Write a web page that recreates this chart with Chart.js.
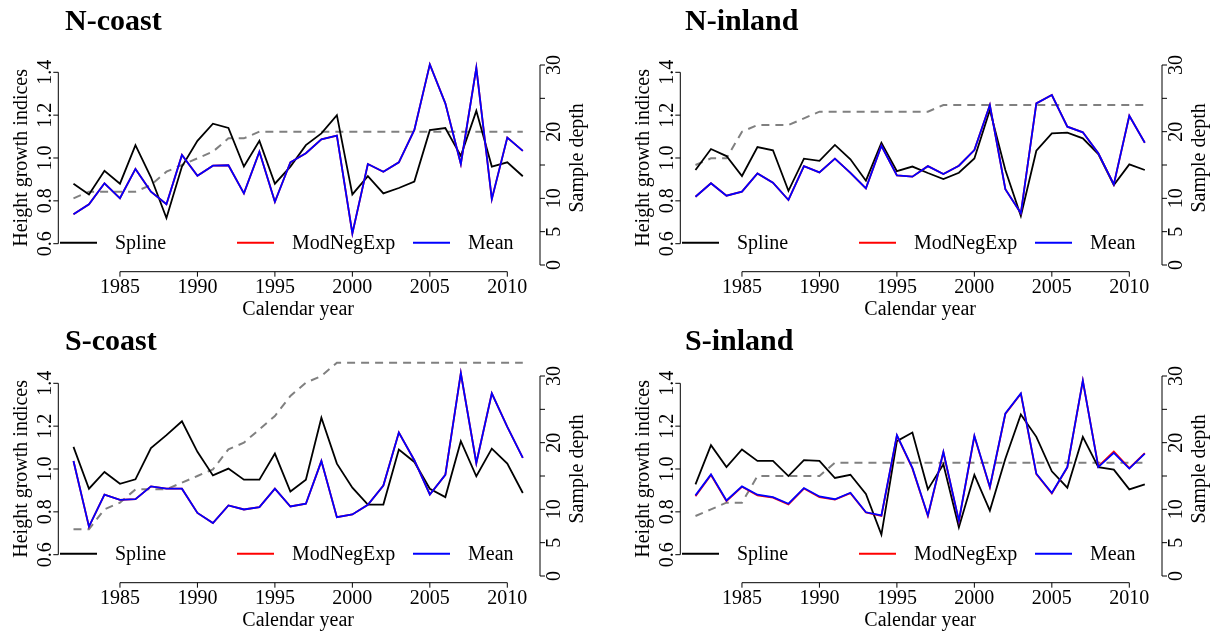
<!DOCTYPE html>
<html>
<head>
<meta charset="utf-8">
<title>Height growth indices</title>
<script src="https://cdn.jsdelivr.net/npm/chart.js@4.4.1/dist/chart.umd.min.js"></script>
<style>
  html, body { margin: 0; padding: 0; background: #fff; }
  #wrap { position: relative; width: 1218px; height: 635px; overflow: hidden; }
  #wrap canvas { position: absolute; }
</style>
</head>
<body>
<div id="wrap">
  <canvas id="c-ncoast" width="596" height="324" style="left:0;top:0"></canvas>
  <canvas id="c-ninland" width="596" height="324" style="left:622px;top:0"></canvas>
  <canvas id="c-scoast" width="596" height="324" style="left:0;top:311px"></canvas>
  <canvas id="c-sinland" width="596" height="324" style="left:622px;top:311px"></canvas>
</div>
<script>
const FONT = '"Liberation Serif", "Times New Roman", serif';

const years = [1982, 1983, 1984, 1985, 1986, 1987, 1988, 1989, 1990, 1991,
  1992, 1993, 1994, 1995, 1996, 1997, 1998, 1999, 2000, 2001,
  2002, 2003, 2004, 2005, 2006, 2007, 2008, 2009, 2010, 2011];
const xTicks = [1985, 1990, 1995, 2000, 2005, 2010];
const indexTicks = [0.6, 0.8, 1.0, 1.2, 1.4];
const depthTicks = [0, 5, 10, 15, 20, 25, 30];
const depthTickLabels = ["0", "5", "10", "", "20", "", "30"];
const legendLabels = ["Spline", "ModNegExp", "Mean"];

// N-coast
const ncoastSpline = [0.88, 0.83, 0.94, 0.88, 1.06, 0.91, 0.72, 0.96, 1.08, 1.16,
  1.14, 0.96, 1.08, 0.88, 0.96, 1.06, 1.115, 1.20, 0.83, 0.915,
  0.835, 0.86, 0.89, 1.13, 1.14, 1.01, 1.22, 0.96, 0.98, 0.915];
const ncoastNegExp = [0.737, 0.784, 0.882, 0.812, 0.949, 0.843, 0.784, 1.014, 0.917, 0.964,
  0.966, 0.835, 1.029, 0.796, 0.98, 1.022, 1.087, 1.104, 0.648, 0.972,
  0.936, 0.98, 1.131, 1.437, 1.255, 0.972, 1.421, 0.808, 1.095, 1.033];
const ncoastMean = [0.737, 0.784, 0.882, 0.812, 0.949, 0.843, 0.784, 1.014, 0.917, 0.964,
  0.966, 0.835, 1.029, 0.796, 0.98, 1.022, 1.087, 1.104, 0.648, 0.972,
  0.936, 0.98, 1.131, 1.437, 1.255, 0.972, 1.421, 0.808, 1.095, 1.033];
const ncoastDepth = [10, 11, 11, 11, 11, 12, 14, 15, 16, 17,
  19, 19, 20, 20, 20, 20, 20, 20, 20, 20,
  20, 20, 20, 20, 20, 20, 20, 20, 20, 20];

// N-inland
const ninlandSpline = [0.944, 1.042, 1.009, 0.916, 1.051, 1.036, 0.847, 0.997, 0.987, 1.061,
  0.994, 0.894, 1.071, 0.939, 0.96, 0.93, 0.902, 0.931, 0.998, 1.224,
  0.944, 0.729, 1.034, 1.115, 1.118, 1.092, 1.018, 0.874, 0.97, 0.944];
const ninlandNegExp = [0.819, 0.882, 0.824, 0.843, 0.928, 0.885, 0.804, 0.962, 0.933, 0.997,
  0.931, 0.858, 1.057, 0.919, 0.913, 0.962, 0.925, 0.964, 1.037, 1.247,
  0.854, 0.742, 1.255, 1.294, 1.146, 1.12, 1.022, 0.877, 1.197, 1.071];
const ninlandMean = [0.819, 0.882, 0.824, 0.843, 0.928, 0.885, 0.804, 0.962, 0.933, 0.997,
  0.931, 0.858, 1.057, 0.919, 0.913, 0.962, 0.925, 0.964, 1.037, 1.247,
  0.854, 0.742, 1.255, 1.294, 1.146, 1.12, 1.022, 0.877, 1.197, 1.071];
const ninlandDepth = [15, 16, 16, 20, 21, 21, 21, 22, 23, 23,
  23, 23, 23, 23, 23, 23, 24, 24, 24, 24,
  24, 24, 24, 24, 24, 24, 24, 24, 24, 24];

// S-coast
const scoastSpline = [1.103, 0.908, 0.986, 0.931, 0.952, 1.098, 1.158, 1.223, 1.08, 0.97,
  1.002, 0.95, 0.95, 1.072, 0.895, 0.95, 1.239, 1.025, 0.913, 0.834,
  0.834, 1.091, 1.033, 0.908, 0.869, 1.13, 0.966, 1.095, 1.025, 0.888];
const scoastNegExp = [1.037, 0.731, 0.88, 0.856, 0.859, 0.919, 0.908, 0.908, 0.795, 0.748,
  0.83, 0.811, 0.822, 0.908, 0.825, 0.838, 1.037, 0.775, 0.788, 0.833,
  0.923, 1.17, 1.041, 0.881, 0.973, 1.447, 1.028, 1.353, 1.197, 1.052];
const scoastMean = [1.037, 0.731, 0.88, 0.856, 0.859, 0.919, 0.908, 0.908, 0.795, 0.748,
  0.83, 0.811, 0.822, 0.908, 0.825, 0.838, 1.037, 0.775, 0.788, 0.833,
  0.923, 1.17, 1.041, 0.881, 0.973, 1.447, 1.028, 1.353, 1.197, 1.052];
const scoastDepth = [7, 7, 10, 11, 13, 13, 13, 14, 15, 16,
  19, 20, 22, 24, 27, 29, 30, 32, 32, 32,
  32, 32, 32, 32, 32, 32, 32, 32, 32, 32];

// S-inland
const sinlandSpline = [0.928, 1.111, 1.009, 1.091, 1.038, 1.038, 0.967, 1.041, 1.038, 0.958,
  0.973, 0.884, 0.694, 1.13, 1.17, 0.905, 1.022, 0.728, 0.973, 0.806,
  1.048, 1.255, 1.15, 0.989, 0.913, 1.15, 1.009, 0.997, 0.905, 0.928];
const sinlandNegExp = [0.873, 0.972, 0.85, 0.917, 0.877, 0.866, 0.835, 0.909, 0.869, 0.857,
  0.887, 0.797, 0.781, 1.156, 1.003, 0.781, 1.078, 0.757, 1.153, 0.914,
  1.257, 1.351, 0.976, 0.886, 1.007, 1.411, 1.012, 1.082, 1.004, 1.074];
const sinlandMean = [0.877, 0.975, 0.853, 0.919, 0.88, 0.869, 0.838, 0.911, 0.872, 0.859,
  0.889, 0.798, 0.783, 1.158, 1.005, 0.783, 1.08, 0.759, 1.155, 0.916,
  1.259, 1.353, 0.978, 0.888, 1.009, 1.413, 1.009, 1.075, 1.002, 1.072];
const sinlandDepth = [9, 10, 11, 11, 15, 15, 15, 15, 15, 17,
  17, 17, 17, 17, 17, 17, 17, 17, 17, 17,
  17, 17, 17, 17, 17, 17, 17, 17, 17, 17];

const panels = [
  { id: "c-ncoast", title: "N-coast", titleX: 65, titleY: 30,
    spline: ncoastSpline, negexp: ncoastNegExp, mean: ncoastMean, depth: ncoastDepth },
  { id: "c-ninland", title: "N-inland", titleX: 63, titleY: 30,
    spline: ninlandSpline, negexp: ninlandNegExp, mean: ninlandMean, depth: ninlandDepth },
  { id: "c-scoast", title: "S-coast", titleX: 65, titleY: 38.5,
    spline: scoastSpline, negexp: scoastNegExp, mean: scoastMean, depth: scoastDepth },
  { id: "c-sinland", title: "S-inland", titleX: 63, titleY: 38.5,
    spline: sinlandSpline, negexp: sinlandNegExp, mean: sinlandMean, depth: sinlandDepth },
];

function pts(arr) {
  return years.map((yr, i) => ({ x: yr, y: arr[i] }));
}

function seg(ctx, x1, y1, x2, y2) {
  ctx.beginPath();
  ctx.moveTo(x1, y1);
  ctx.lineTo(x2, y2);
  ctx.stroke();
}

function upText(ctx, text, x, y) {
  ctx.save();
  ctx.translate(x, y);
  ctx.rotate(-Math.PI / 2);
  ctx.fillText(text, 0, 0);
  ctx.restore();
}

// R-style axes, legend and panel title
const baseAxes = {
  id: "baseAxes",
  afterDatasetsDraw(chart, args, opts) {
    const { ctx, chartArea: a, scales } = chart;
    const sx = scales.x, sy = scales.y, sd = scales.depth;
    ctx.save();
    ctx.strokeStyle = "#000";
    ctx.fillStyle = "#000";
    ctx.lineWidth = 1;
    ctx.font = "20px " + FONT;
    ctx.textAlign = "center";
    ctx.textBaseline = "alphabetic";

    // left: indices
    seg(ctx, a.left, sy.getPixelForValue(indexTicks[0]), a.left, sy.getPixelForValue(indexTicks[indexTicks.length - 1]));
    indexTicks.forEach((v) => {
      const p = sy.getPixelForValue(v);
      seg(ctx, a.left - 5, p, a.left, p);
      upText(ctx, v.toFixed(1), a.left - 7, p);
    });
    upText(ctx, "Height growth indices", a.left - 31, (a.top + a.bottom) / 2);

    // right: sample depth
    seg(ctx, a.right, sd.getPixelForValue(depthTicks[0]), a.right, sd.getPixelForValue(depthTicks[depthTicks.length - 1]));
    depthTicks.forEach((v, i) => {
      const p = sd.getPixelForValue(v);
      seg(ctx, a.right, p, a.right + 5, p);
      if (depthTickLabels[i]) upText(ctx, depthTickLabels[i], a.right + 20, p);
    });
    upText(ctx, "Sample depth", a.right + 43, (a.top + a.bottom) / 2);

    // bottom: years
    seg(ctx, sx.getPixelForValue(xTicks[0]), a.bottom, sx.getPixelForValue(xTicks[xTicks.length - 1]), a.bottom);
    xTicks.forEach((v) => {
      const p = sx.getPixelForValue(v);
      seg(ctx, p, a.bottom, p, a.bottom + 5);
      ctx.fillText(String(v), p, a.bottom + 21);
    });
    const mid = (sx.getPixelForValue(years[0]) + sx.getPixelForValue(years[years.length - 1])) / 2;
    ctx.fillText("Calendar year", mid, a.bottom + 43);

    // legend
    const ly = a.bottom - 29;
    const cols = ["#000000", "#ff0000", "#0000ff"];
    const lineX = [1.7, 178.7, 354.7];
    ctx.textAlign = "left";
    ctx.textBaseline = "middle";
    ctx.lineWidth = 2;
    legendLabels.forEach((lab, i) => {
      ctx.strokeStyle = cols[i];
      seg(ctx, a.left + lineX[i], ly, a.left + lineX[i] + 37, ly);
      ctx.fillText(lab, a.left + lineX[i] + 55, ly + 1);
    });

    // title
    ctx.font = "bold 30px " + FONT;
    ctx.textBaseline = "alphabetic";
    ctx.fillText(opts.title, opts.titleX, opts.titleY);
    ctx.restore();
  },
};

function makePanel(p) {
  const ctx = document.getElementById(p.id).getContext("2d");
  return new Chart(ctx, {
    type: "line",
    data: {
      datasets: [
        { label: "Mean", data: pts(p.mean), borderColor: "#0000ff", borderWidth: 1.8, yAxisID: "y", order: 0 },
        { label: "ModNegExp", data: pts(p.negexp), borderColor: "#ff0000", borderWidth: 1.8, yAxisID: "y", order: 1 },
        { label: "Spline", data: pts(p.spline), borderColor: "#000000", borderWidth: 1.8, yAxisID: "y", order: 2 },
        { label: "Sample depth", data: pts(p.depth), borderColor: "#808080", borderWidth: 2,
          borderDash: [8, 6], yAxisID: "depth", order: 3 },
      ],
    },
    options: {
      responsive: false,
      animation: false,
      events: [],
      layout: { padding: { left: 58.3, right: 56, top: 44, bottom: 52.3 } },
      elements: { point: { radius: 0 }, line: { tension: 0, fill: false } },
      scales: {
        x: { type: "linear", display: false, min: 1981.02, max: 2012.11 },
        y: { type: "linear", display: false, min: 0.4693, max: 1.5321 },
        depth: { type: "linear", display: false, min: -1.005, max: 33.15 },
      },
      plugins: {
        legend: { display: false },
        tooltip: { enabled: false },
        baseAxes: { title: p.title, titleX: p.titleX, titleY: p.titleY },
      },
    },
    plugins: [baseAxes],
  });
}

panels.forEach(makePanel);
</script>
</body>
</html>
